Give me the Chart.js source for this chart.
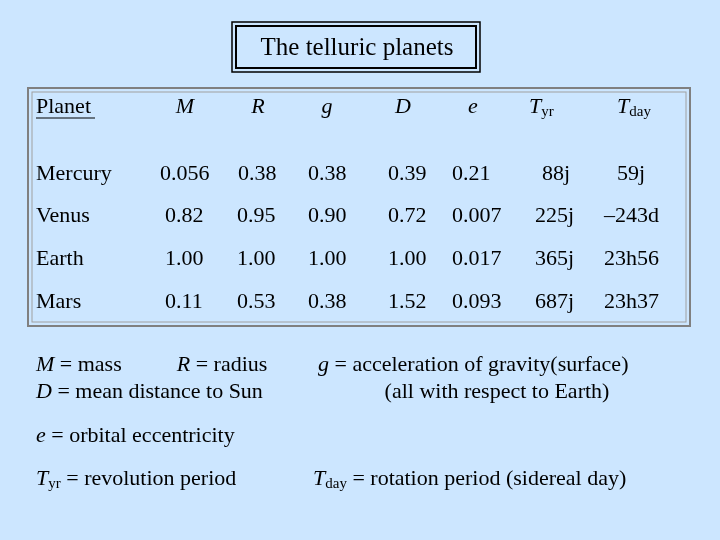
<!DOCTYPE html><html><head><meta charset="utf-8">
<script src="https://cdn.jsdelivr.net/npm/chart.js"></script>
<style>html,body{margin:0;padding:0;background:#CCE6FF}#c{display:block}</style></head><body>
<div style="width:720px;height:540px"><canvas id="c" width="720" height="540"></canvas></div>
<script>
const title = "The telluric planets";
const planets = ["Mercury","Venus","Earth","Mars"];
const colM = ["0.056","0.82","1.00","0.11"];
const colR = ["0.38","0.95","1.00","0.53"];
const colG = ["0.38","0.90","1.00","0.38"];
const colD = ["0.39","0.72","1.00","1.52"];
const colE = ["0.21","0.007","0.017","0.093"];
const colTyr = ["88j","225j","365j","687j"];
const colTday = ["59j","\u2013243d","23h56","23h37"];
const columns = [colM,colR,colG,colD,colE,colTyr,colTday];
const colX = [165,237,308,388,452,535,604];
const mercuryX = [160,238,308,388,452,542,617];
const rowY = [174,216,259,302];
const F = "'Liberation Serif', serif";
function rich(ctx,x,y,segs,align){
  let w=0; const fonts=segs.map(s=>s[1]==='s'?"15px "+F:(s[1]==='i'?"italic 22px "+F:"22px "+F));
  segs.forEach((s,i)=>{ctx.font=fonts[i];w+=ctx.measureText(s[0]).width;});
  let cx = align==='center'?x-w/2:x;
  ctx.textAlign='left';
  segs.forEach((s,i)=>{ctx.font=fonts[i];ctx.fillText(s[0],cx,s[1]==='s'?y+5:y);cx+=ctx.measureText(s[0]).width;});
}
const tablePlugin={id:'tbl',afterDraw(chart){
  const ctx=chart.ctx, xs=chart.scales.x, ys=chart.scales.y;
  const X=v=>xs.getPixelForValue(v), Y=v=>ys.getPixelForValue(v);
  ctx.save(); ctx.fillStyle='#000'; ctx.textBaseline='middle';
  ctx.strokeStyle='#000'; ctx.lineWidth=1.5;
  ctx.strokeRect(X(232),Y(22),X(480)-X(232),Y(72)-Y(22));
  ctx.lineWidth=2; ctx.strokeRect(X(236),Y(26),X(476)-X(236),Y(68)-Y(26));
  ctx.font="25px "+F; ctx.textAlign='center'; ctx.fillText(title,X(357),Y(48));
  ctx.strokeStyle='#808080'; ctx.lineWidth=2; ctx.strokeRect(X(28),Y(88),X(690)-X(28),Y(326)-Y(88));
  ctx.strokeStyle='#A0A0A0'; ctx.lineWidth=1; ctx.strokeRect(X(32),Y(92),X(686)-X(32),Y(322)-Y(92));
  ctx.font="22px "+F; ctx.textAlign='left'; ctx.fillText("Planet",X(36),Y(107));
  ctx.beginPath();ctx.lineWidth=1;ctx.strokeStyle='#000';ctx.moveTo(X(36),Y(118));ctx.lineTo(X(95),Y(118));ctx.stroke();
  const hdr=[["M",185],["R",258],["g",327],["D",403],["e",473]];
  hdr.forEach(h=>rich(ctx,X(h[1]),Y(107),[[h[0],'i']],'center'));
  rich(ctx,X(529),Y(107),[["T",'i'],["yr",'s']],'left');
  rich(ctx,X(617),Y(107),[["T",'i'],["day",'s']],'left');
  planets.forEach((p,r)=>{
    ctx.font="22px "+F; ctx.textAlign='left'; ctx.fillText(p,X(36),Y(rowY[r]));
    columns.forEach((c,i)=>{ctx.fillText(c[r],X(r===0?mercuryX[i]:colX[i]),Y(rowY[r]));});
  });
  rich(ctx,X(36),Y(365),[["M",'i'],[" = mass          ",'n'],["R",'i'],[" = radius",'n']],'left');
  rich(ctx,X(36),Y(392),[["D",'i'],[" = mean distance to Sun",'n']],'left');
  rich(ctx,X(318),Y(365),[["g",'i'],[" = acceleration of gravity(surface)",'n']],'left');
  rich(ctx,X(497),Y(392),[["(all with respect to Earth)",'n']],'center');
  rich(ctx,X(36),Y(436),[["e",'i'],[" = orbital eccentricity",'n']],'left');
  rich(ctx,X(36),Y(479),[["T",'i'],["yr",'s'],[" = revolution period",'n']],'left');
  rich(ctx,X(313),Y(479),[["T",'i'],["day",'s'],[" = rotation period (sidereal day)",'n']],'left');
  ctx.restore();
}};
new Chart(document.getElementById('c'),{type:'scatter',data:{datasets:[{data:[]}]},
 options:{responsive:false,animation:false,layout:{padding:0},
  plugins:{legend:{display:false},tooltip:{enabled:false}},
  scales:{x:{type:'linear',min:0,max:720,display:false},y:{type:'linear',min:0,max:540,reverse:true,display:false}}},
 plugins:[tablePlugin]});
</script></body></html>
